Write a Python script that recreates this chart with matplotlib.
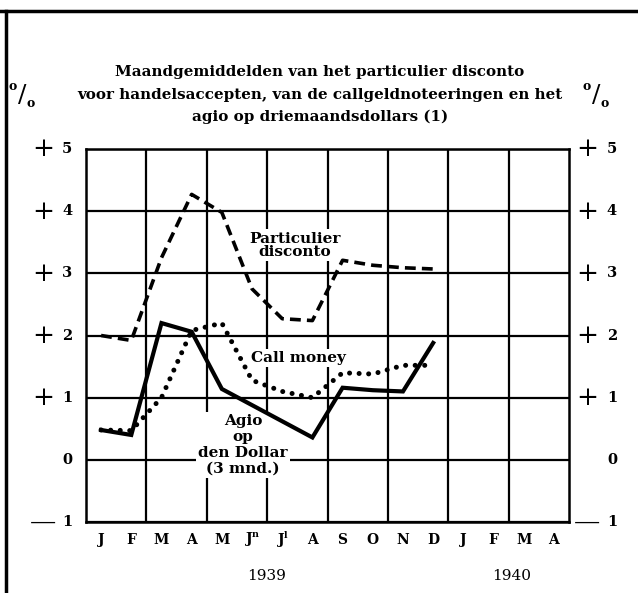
import numpy as np
import matplotlib
matplotlib.use('Agg')
import matplotlib.pyplot as plt
from matplotlib.lines import Line2D

plt.rcParams['font.family'] = ['DejaVu Serif']
plt.rcParams['mathtext.fontset'] = 'dejavuserif'

# data (1939, monthly averages, %)
months = ['J', 'F', 'M', 'A', 'M', r'J$^{\mathbf{n}}$', r'J$^{\mathbf{l}}$', 'A', 'S', 'O', 'N', 'D',
          'J', 'F', 'M', 'A']
particulier = [2.0, 1.92, 3.25, 4.27, 3.98, 2.75, 2.27, 2.24, 3.21, 3.13, 3.09, 3.07]
call_money = [0.48, 0.47, 1.0, 2.08, 2.2, 1.28, 1.1, 1.0, 1.4, 1.38, 1.52, 1.52]
agio = [0.48, 0.4, 2.2, 2.06, 1.14, 0.88, 0.62, 0.36, 1.16, 1.12, 1.1, 1.88]
ytick_vals = [5, 4, 3, 2, 1, 0, -1]
ytick_signs = ['+', '+', '+', '+', '+', '', '—']

W, H = 638, 593
fig = plt.figure(figsize=(W / 100, H / 100), dpi=100)
ax = fig.add_axes([86 / W, 1 - 522 / H, 483 / W, 373 / H])

x = np.arange(len(particulier)) + 0.5

ax.plot(x, particulier, color='black', lw=2.6, dashes=(3, 1.7), solid_capstyle='butt', zorder=3)
ax.plot(x, call_money, color='black', lw=3.6, linestyle=(0, (0.01, 1.9)), dash_capstyle='round',
        zorder=3)
ax.plot(x, agio, color='black', lw=3.0, solid_joinstyle='miter', zorder=3)

ax.set_xlim(0, 16)
ax.set_ylim(-1, 5)
ax.set_xticks(np.arange(2, 16, 2))
ax.set_yticks(np.arange(-1, 6, 1))
ax.grid(True, color='black', lw=1.6)
ax.tick_params(length=0, labelbottom=False, labelleft=False)
for s in ax.spines.values():
    s.set_linewidth(1.8)

# annotations (white box hides the grid, not the curves)
box = dict(facecolor='white', edgecolor='none', pad=1.5)
ax.text(6.92, 3.45, 'Particulier\ndisconto', ha='center', va='center', fontsize=11,
        fontweight='bold', linespacing=0.95, bbox=box, zorder=2.5)
ax.text(7.05, 1.64, 'Call money', ha='center', va='center', fontsize=11,
        fontweight='bold', bbox=box, zorder=2.5)
ax.text(5.2, 0.24, 'Agio\nop\nden Dollar\n(3 mnd.)', ha='center', va='center', fontsize=11,
        fontweight='bold', linespacing=1.15, bbox=box, zorder=2.5)

# month labels
xt = ax.get_xaxis_transform()
for i, m in enumerate(months):
    ax.text(i + 0.5, -0.048, m, transform=xt, ha='center', va='center', fontsize=10,
            fontweight='bold')

# y labels both sides
yt = ax.get_yaxis_transform()
for v, s in zip(ytick_vals, ytick_signs):
    ax.text(-0.039, v, str(abs(v)), transform=yt, ha='center', va='center', fontsize=10.5,
            fontweight='bold')
    ax.text(1.089, v, str(abs(v)), transform=yt, ha='center', va='center', fontsize=10.5,
            fontweight='bold')
    if s:
        ax.text(-0.089, v, s, transform=yt, ha='center', va='center', fontsize=19)
        ax.text(1.037, v, s, transform=yt, ha='center', va='center', fontsize=19)

# titles
fig.text(320 / W, 1 - 72 / H, 'Maandgemiddelden van het particulier disconto', ha='center',
         va='center', fontsize=10.9, fontweight='bold')
fig.text(320 / W, 1 - 95 / H, 'voor handelsaccepten, van de callgeldnoteeringen en het',
         ha='center', va='center', fontsize=10.9, fontweight='bold')
fig.text(320 / W, 1 - 117 / H, 'agio op driemaandsdollars (1)', ha='center', va='center',
         fontsize=10.9, fontweight='bold')

# per cent signs
for px in (22, 596):
    fig.text((px - 9) / W, 1 - 87 / H, 'o', ha='center', va='center', fontsize=9,
             fontweight='bold')
    fig.text(px / W, 1 - 96 / H, '/', ha='center', va='center', fontsize=18)
    fig.text((px + 9) / W, 1 - 103 / H, 'o', ha='center', va='center', fontsize=9,
             fontweight='bold')

# years
fig.text(267 / W, 1 - 576 / H, '1939', ha='center', va='center', fontsize=11)
fig.text(512 / W, 1 - 576 / H, '1940', ha='center', va='center', fontsize=11)

# page border
fig.add_artist(Line2D([0, 1], [1 - 11 / H] * 2, transform=fig.transFigure, color='black', lw=2.5))
fig.add_artist(Line2D([6 / W] * 2, [0, 1 - 11 / H], transform=fig.transFigure, color='black',
                      lw=2.5))

fig.savefig('out.png', dpi=100)
